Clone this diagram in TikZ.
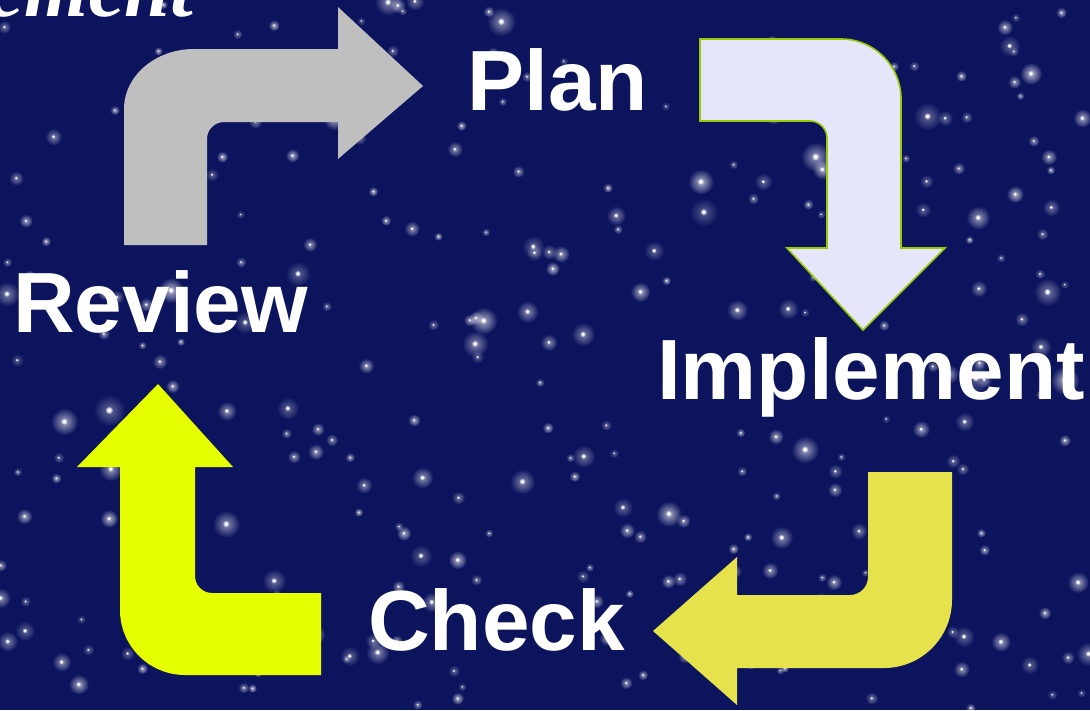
\documentclass[tikz,border=0pt]{standalone}
\usepackage{fontspec}
\usetikzlibrary{fadings}
\setmainfont{Liberation Sans}
\newfontfamily\titleserif{Liberation Serif}
\definecolor{bgnavy}{RGB}{12,20,94}
\definecolor{arrgray}{RGB}{191,191,191}
\definecolor{arrlav}{RGB}{230,230,250}
\definecolor{arrlavline}{RGB}{153,204,0}
\definecolor{arrkhaki}{RGB}{230,226,76}
\definecolor{arryellow}{RGB}{230,255,0}
\tikzfading[name=starglow, inner color=transparent!15, outer color=transparent!100]
\tikzset{
  lbl/.style={text=white, inner sep=0pt, font=\fontsize{85.5}{85.5}\selectfont\bfseries},
  titletext/.style={text=white, inner sep=0pt, font=\titleserif\fontsize{82}{82}\selectfont\bfseries\itshape},
  bendarrow/.style={draw=none},
}
\begin{document}
\begin{tikzpicture}[x=1pt,y=-1pt]
\useasboundingbox (0,0) rectangle (1090,710);
\clip (0,0) rectangle (1090,710);
\fill[bgnavy] (0,0) rectangle (1090,710);
% stars
\pgfmathsetseed{4711}
\foreach \i in {1,...,300}{
  \pgfmathsetmacro\sx{rnd*1090}
  \pgfmathsetmacro\sy{rnd*710}
  \pgfmathsetmacro\ss{0.35+1.1*rnd*rnd}
  \pgfmathsetmacro\so{0.35+0.5*rnd}
  \fill[white, opacity=\so, path fading=starglow] (\sx,\sy) circle[radius=\ss*12pt];
  \fill[white, opacity=0.5] (\sx,\sy) circle[radius=\ss*2.6pt];
  \fill[white] (\sx,\sy) circle[radius=\ss*1.6pt];
}
% title fragment
\node[titletext, anchor=base east] (title) at (193,16) {ement};
% gray arrow (Review -> Plan)
\fill[arrgray, bendarrow] (124,245) -- (124,109) .. controls (124,75.9) and (155.4,49) .. (194,49) -- (338,49) -- (338,7) -- (423,86) -- (338,159) -- (338,122) -- (224,122) .. controls (214.6,122) and (207,129.6) .. (207,139) -- (207,245) -- cycle;
% lavender arrow (Plan -> Implement)
\filldraw[fill=arrlav, draw=arrlavline, line width=1.6pt, line join=miter] (700,39) -- (841,39) .. controls (874.1,39) and (901,65.9) .. (901,99) -- (901,248) -- (945,248) -- (863,330) -- (787,248) -- (827,248) -- (827,138) .. controls (827,128.6) and (819.4,121) .. (810,121) -- (700,121) -- cycle;
% khaki arrow (Implement -> Check)
\fill[arrkhaki, bendarrow] (868,472) -- (952,472) -- (952,600) .. controls (952,637.5) and (921.5,668) .. (884,668) -- (737,668) -- (737,705) -- (653,631) -- (737,557) -- (737,595) -- (850,595) .. controls (859.9,595) and (868,586.9) .. (868,577) -- cycle;
% yellow arrow (Check -> Review)
\fill[arryellow, bendarrow] (158,384) -- (233,467) -- (195,467) -- (195,576) .. controls (195,585.4) and (202.6,593) .. (212,593) -- (321,593) -- (321,675) -- (185,675) .. controls (149.1,675) and (120,645.9) .. (120,610) -- (120,467) -- (77,467) -- cycle;
% labels
\node[lbl, anchor=base west] (plan) at (467,110) {Plan};
\node[lbl, anchor=base west] (implement) at (657,399) {Implement};
\node[lbl, anchor=base west] (check) at (368,650) {Check};
\node[lbl, anchor=base west] (review) at (13,332) {Review};
\end{tikzpicture}
\end{document}
